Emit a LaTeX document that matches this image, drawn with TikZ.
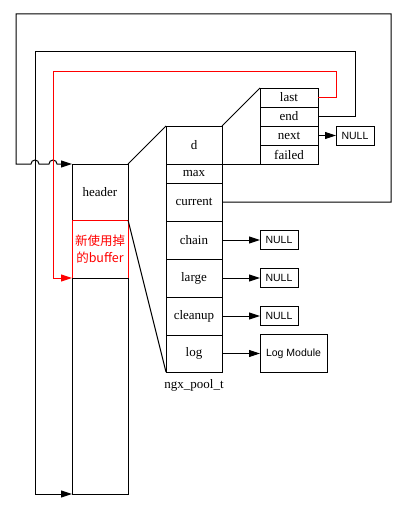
\documentclass[tikz,border=0pt]{standalone}
\usepackage{fontspec}
\setmainfont{Liberation Serif}
\newfontfamily\sansfnt{Liberation Sans}
\newfontfamily\cjkfnt{Noto Sans CJK SC}
\usetikzlibrary{positioning,arrows.meta}

\begin{document}
\begin{tikzpicture}[x=1pt,y=-1pt,>={Triangle[length=11pt,width=7pt]},line width=1pt,
	field/.style={draw,minimum width=56pt,inner sep=0pt,outer sep=0pt,font=\fontsize{13}{15}\selectfont},
	slot/.style={draw,minimum width=58pt,minimum height=19pt,inner sep=0pt,outer sep=0pt,font=\fontsize{13}{15}\selectfont},
	target/.style={draw,minimum height=19pt,inner sep=0pt,outer sep=0pt,font=\sansfnt\fontsize{10.5}{12}\selectfont}]

	\useasboundingbox (0,0) rectangle (407,527);

	% ngx_pool_t
	\node(d)       [field,minimum height=38pt,anchor=north west] at (166,126) {d};
	\node(max)     [field,minimum height=19pt,below=0pt of d]       {max};
	\node(current) [field,minimum height=38pt,below=0pt of max]     {current};
	\node(chain)   [field,minimum height=38pt,below=0pt of current] {chain};
	\node(large)   [field,minimum height=38pt,below=0pt of chain]   {large};
	\node(cleanup) [field,minimum height=38pt,below=0pt of large]   {cleanup};
	\node(log)     [field,minimum height=37pt,below=0pt of cleanup] {log};
	\node(pool)    [font=\fontsize{13}{15}\selectfont] at (194,385) {ngx\_pool\_t};

	% d
	\node(last)   [slot,anchor=north west] at (260,88) {last};
	\node(end)    [slot,below=0pt of last] {end};
	\node(next)   [slot,below=0pt of end]  {next};
	\node(failed) [slot,below=0pt of next] {failed};

	% memory block
	\node(header) [field,minimum height=56pt,anchor=north west] at (72,164) {header};
	\node(buf)    [field,red,minimum height=58pt,below=0pt of header,align=center,font=\cjkfnt\fontsize{12.5}{17}\selectfont] {新使用掉\\的buffer};
	\node(rest)   [field,minimum height=216pt,below=0pt of buf] {};

	% targets
	\node(null_n) [target,minimum width=38pt,anchor=west] at (336,135.5) {NULL};
	\node(null_c) [target,minimum width=38pt,anchor=west] at (260,240) {NULL};
	\node(null_l) [target,minimum width=38pt,anchor=west] at (260,278) {NULL};
	\node(null_u) [target,minimum width=38pt,anchor=west] at (260,316) {NULL};
	\node(logmod) [target,minimum width=67pt,minimum height=38pt,anchor=west] at (260,353.5) {Log Module};

	\draw (header.north east) -- (d.north west);
	\draw (buf.north east) -- (log.south west);
	\draw (d.north east) -- (last.north west);
	\draw ([xshift=-14pt]d.south east) -- (failed.south west);

	\draw[->] (next) -- (null_n);
	\draw[->] (chain) -- (null_c);
	\draw[->] (large) -- (null_l);
	\draw[->] (cleanup) -- (null_u);
	\draw[->] (log) -- (logmod);

	\draw[->] (current.east) -| (391,14) -| (16,164) -- (31,164)
		arc[start angle=180,end angle=360,radius=4] -- (49,164)
		arc[start angle=180,end angle=360,radius=4] -- (header.north west);
	\draw[->] (end.east) -| (355,52) -| (35,494) -- (rest.south west);
	\draw[->,red] (last.east) -| (336,71) -| (53,278) -- (buf.south west);
\end{tikzpicture}
\end{document}
